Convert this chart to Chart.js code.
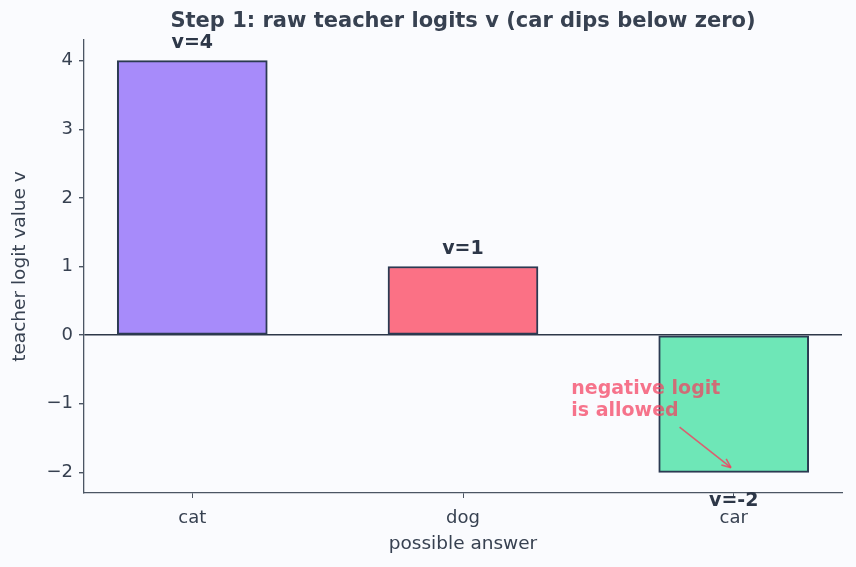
<!DOCTYPE html>
<html lang="en">
<head>
  <meta charset="UTF-8">
  <title>Step 1: raw teacher logits</title>
  <script src="https://cdn.jsdelivr.net/npm/chart.js"></script>
  <style>
    html, body { margin: 0; padding: 0; background: #fafbfe; }
    #wrap { width: 856px; height: 567px; }
  </style>
</head>
<body>
  <div id="wrap"><canvas id="logitChart" width="856" height="567"></canvas></div>
  <script>
  // data
  const categories = ['cat', 'dog', 'car'];
  const logits = [4, 1, -2];
  const barColors = ['#a78bfa', '#fb7185', '#6ee7b7'];
  const barLabels = ['v=4', 'v=1', 'v=-2'];
  const yTicks = [-2, -1, 0, 1, 2, 3, 4];
  const chartTitle = 'Step 1: raw teacher logits v (car dips below zero)';

  // annotation: text spot and arrow, in data units
  const noteLines = ['negative logit', 'is allowed'];
  const noteAt = { x: 1.40, y: -0.79 };
  const arrowFrom = { x: 1.80, y: -1.34 };
  const arrowTo = { x: 1.99, y: -1.93 };

  const ink = '#374151';
  const font = '"DejaVu Sans", sans-serif';

  const barText = {
    id: 'barText',
    afterDatasetsDraw(chart) {
      const ctx = chart.ctx;
      const area = chart.chartArea;
      const meta = chart.getDatasetMeta(0);
      ctx.save();

      // title centred over the plot area, like matplotlib does
      ctx.font = 'bold 21px ' + font;
      ctx.fillStyle = ink;
      ctx.textAlign = 'center';
      ctx.textBaseline = 'middle';
      ctx.fillText(chartTitle, (area.left + area.right) / 2, 22);

      ctx.font = 'bold 19px ' + font;
      ctx.fillStyle = '#2d3748';
      meta.data.forEach((bar, i) => {
        if (logits[i] >= 0) {
          ctx.textBaseline = 'bottom';
          ctx.fillText(barLabels[i], bar.x, bar.y - 8);
        } else {
          ctx.textBaseline = 'top';
          ctx.fillText(barLabels[i], bar.x, bar.y + 19);
        }
      });

      // note + arrow
      const x = chart.scales.x, y = chart.scales.y;
      ctx.fillStyle = 'rgba(244, 63, 94, 0.72)';
      ctx.strokeStyle = 'rgba(244, 63, 94, 0.8)';
      ctx.textAlign = 'left';
      ctx.textBaseline = 'middle';
      const tx = x.getPixelForValue(noteAt.x), ty = y.getPixelForValue(noteAt.y);
      noteLines.forEach((t, i) => ctx.fillText(t, tx, ty + i * 22));

      const x0 = x.getPixelForValue(arrowFrom.x), y0 = y.getPixelForValue(arrowFrom.y);
      const x1 = x.getPixelForValue(arrowTo.x), y1 = y.getPixelForValue(arrowTo.y);
      const ang = Math.atan2(y1 - y0, x1 - x0);
      ctx.lineWidth = 1.6;
      ctx.beginPath();
      ctx.moveTo(x0, y0);
      ctx.lineTo(x1, y1);
      ctx.stroke();
      ctx.beginPath();
      ctx.moveTo(x1, y1);
      ctx.lineTo(x1 - 10 * Math.cos(ang - 0.4), y1 - 10 * Math.sin(ang - 0.4));
      ctx.moveTo(x1, y1);
      ctx.lineTo(x1 - 10 * Math.cos(ang + 0.4), y1 - 10 * Math.sin(ang + 0.4));
      ctx.stroke();
      ctx.restore();
    }
  };

  new Chart(document.getElementById('logitChart'), {
    type: 'bar',
    data: {
      datasets: [{
        data: logits.map((v, i) => ({ x: i, y: v })),
        backgroundColor: barColors,
        borderColor: '#2b3a52',
        borderWidth: 2,
        borderSkipped: false,
        barThickness: 150
      }]
    },
    options: {
      responsive: false,
      animation: false,
      layout: { padding: { left: 0, right: 14, top: 40, bottom: 8 } },
      plugins: {
        legend: { display: false },
        tooltip: { enabled: false },
        title: { display: false }
      },
      scales: {
        x: {
          type: 'linear',
          min: -0.4,
          max: 2.4,
          offset: false,
          afterBuildTicks: s => { s.ticks = categories.map((c, i) => ({ value: i })); },
          afterFit: s => { s.height = 66; },
          ticks: {
            color: ink,
            font: { family: font, size: 18 },
            padding: 10,
            callback: v => categories[v]
          },
          grid: { drawOnChartArea: false, offset: false, color: '#4b5563', tickLength: 5 },
          border: { color: '#4b5563', width: 1.3 },
          title: {
            display: true,
            text: 'possible answer',
            color: ink,
            font: { family: font, size: 18.5 },
            padding: { top: 2 }
          }
        },
        y: {
          min: -2.3,
          max: 4.3,
          afterBuildTicks: s => { s.ticks = yTicks.map(v => ({ value: v })); },
          afterFit: s => { s.width = 84; },
          ticks: {
            color: ink,
            font: { family: font, size: 18 },
            padding: 6,
            callback: v => v < 0 ? '\u2212' + Math.abs(v) : String(v)
          },
          grid: {
            color: c => c.tick && c.tick.value === 0 ? '#2d3748' : 'rgba(0,0,0,0)',
            lineWidth: 1.4,
            tickColor: '#4b5563',
            tickLength: 5
          },
          border: { color: '#4b5563', width: 1.3 },
          title: {
            display: true,
            text: 'teacher logit value v',
            color: ink,
            font: { family: font, size: 18.5 },
            padding: { top: 9, bottom: 4 }
          }
        }
      }
    },
    plugins: [barText]
  });
  </script>
</body>
</html>
